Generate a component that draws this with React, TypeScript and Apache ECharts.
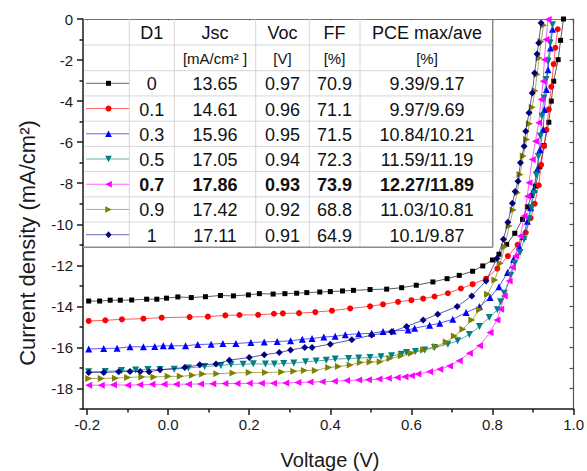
import React, { useEffect, useRef } from "react";
import * as echarts from "echarts";

// ---------- table data ----------
const d1Labels = ["0", "0.1", "0.3", "0.5", "0.7", "0.9", "1"];
const jscVals = ["13.65", "14.61", "15.96", "17.05", "17.86", "17.42", "17.11"];
const vocVals = ["0.97", "0.96", "0.95", "0.94", "0.93", "0.92", "0.91"];
const ffVals = ["70.9", "71.1", "71.5", "72.3", "73.9", "68.8", "64.9"];
const pceVals = ["9.39/9.17", "9.97/9.69", "10.84/10.21", "11.59/11.19", "12.27/11.89", "11.03/10.81", "10.1/9.87"];
const boldRow = 4;

// ---------- axis ticks ----------
const xTicksMajor = [-0.2, 0, 0.2, 0.4, 0.6, 0.8, 1.0];
const xTicksMinor = [-0.1, 0.1, 0.3, 0.5, 0.7, 0.9];
const yTicksMajor = [-18, -16, -14, -12, -10, -8, -6, -4, -2, 0];
const yTicksMinor = [-19, -17, -15, -13, -11, -9, -7, -5, -3, -1];

// ---------- J-V curves ----------
const v_d0 = [-0.196, -0.169, -0.143, -0.118, -0.09, -0.053, -0.028, -0.004, 0.024, 0.057, 0.092, 0.129, 0.161, 0.198, 0.225, 0.259, 0.288, 0.317, 0.342, 0.374, 0.4, 0.43, 0.457, 0.498, 0.539, 0.576, 0.612, 0.653, 0.688, 0.718, 0.751, 0.776, 0.8, 0.816, 0.835, 0.855, 0.874, 0.886, 0.897, 0.906, 0.917, 0.927, 0.939, 0.945, 0.951, 0.962, 0.968, 0.975];
const j_d0 = [-13.74, -13.74, -13.7, -13.7, -13.69, -13.65, -13.65, -13.6, -13.54, -13.57, -13.53, -13.47, -13.49, -13.44, -13.38, -13.4, -13.38, -13.36, -13.33, -13.3, -13.28, -13.25, -13.22, -13.18, -13.16, -13.09, -12.97, -12.81, -12.65, -12.49, -12.29, -12.03, -11.74, -11.46, -10.98, -10.44, -9.76, -9.15, -8.6, -8.14, -7.2, -6.16, -5.03, -4.0, -3.03, -1.98, -1.04, 0];

const v_d1 = [-0.196, -0.155, -0.114, -0.061, -0.016, 0.053, 0.098, 0.141, 0.176, 0.222, 0.261, 0.283, 0.323, 0.363, 0.404, 0.449, 0.498, 0.53, 0.567, 0.6, 0.629, 0.657, 0.69, 0.722, 0.751, 0.784, 0.812, 0.838, 0.862, 0.882, 0.894, 0.904, 0.914, 0.92, 0.927, 0.933, 0.939, 0.945, 0.951, 0.955, 0.961];
const j_d1 = [-14.71, -14.68, -14.63, -14.6, -14.55, -14.52, -14.5, -14.44, -14.42, -14.41, -14.36, -14.34, -14.33, -14.28, -14.21, -14.1, -14.0, -13.9, -13.78, -13.7, -13.62, -13.52, -13.36, -13.13, -12.92, -12.65, -12.16, -11.55, -11.0, -10.4, -9.7, -9.0, -8.1, -7.1, -6.2, -5.4, -4.4, -3.3, -2.2, -1.4, -0.5];

const v_d3 = [-0.196, -0.159, -0.126, -0.094, -0.061, -0.033, -0.012, 0.008, 0.043, 0.073, 0.106, 0.135, 0.167, 0.204, 0.237, 0.269, 0.302, 0.331, 0.355, 0.384, 0.412, 0.437, 0.47, 0.502, 0.53, 0.555, 0.592, 0.608, 0.645, 0.67, 0.702, 0.735, 0.768, 0.794, 0.816, 0.837, 0.852, 0.866, 0.876, 0.886, 0.894, 0.902, 0.91, 0.917, 0.925, 0.928, 0.933, 0.937, 0.943, 0.948];
const j_d3 = [-16.08, -16.05, -16.04, -15.97, -15.97, -15.95, -15.92, -15.92, -15.92, -15.86, -15.84, -15.81, -15.81, -15.76, -15.73, -15.71, -15.68, -15.6, -15.57, -15.49, -15.46, -15.38, -15.34, -15.31, -15.22, -15.2, -15.15, -15.06, -14.92, -14.82, -14.63, -14.3, -14.01, -13.57, -13.04, -12.35, -11.71, -11.1, -10.6, -9.85, -9.19, -8.3, -7.33, -6.36, -5.38, -4.41, -3.44, -2.47, -1.41, -0.5];

const v_d5 = [-0.196, -0.155, -0.115, -0.08, -0.05, -0.02, 0.015, 0.05, 0.09, 0.13, 0.155, 0.185, 0.21, 0.24, 0.262, 0.285, 0.31, 0.339, 0.365, 0.39, 0.412, 0.445, 0.47, 0.498, 0.525, 0.551, 0.575, 0.588, 0.61, 0.633, 0.657, 0.69, 0.714, 0.743, 0.768, 0.792, 0.812, 0.82, 0.829, 0.845, 0.855, 0.868, 0.878, 0.89, 0.896, 0.902, 0.908, 0.913, 0.918, 0.922, 0.927, 0.932, 0.937, 0.942, 0.948];
const j_d5 = [-17.19, -17.17, -17.12, -17.1, -17.08, -17.08, -17.06, -17.0, -16.93, -16.88, -16.83, -16.82, -16.8, -16.81, -16.81, -16.78, -16.76, -16.7, -16.66, -16.62, -16.57, -16.54, -16.52, -16.49, -16.45, -16.41, -16.33, -16.25, -16.2, -16.12, -16.0, -15.84, -15.68, -15.37, -14.98, -14.54, -14.17, -13.78, -13.36, -12.49, -11.9, -11.38, -10.73, -9.76, -9.2, -8.5, -7.6, -6.7, -5.7, -4.74, -3.85, -2.95, -2.06, -1.17, -0.28];

const v_d7 = [-0.196, -0.165, -0.135, -0.1, -0.07, -0.04, -0.01, 0.02, 0.05, 0.08, 0.11, 0.14, 0.17, 0.2, 0.23, 0.26, 0.29, 0.32, 0.35, 0.38, 0.41, 0.44, 0.47, 0.494, 0.52, 0.543, 0.565, 0.584, 0.6, 0.616, 0.645, 0.67, 0.694, 0.718, 0.743, 0.768, 0.794, 0.811, 0.82, 0.829, 0.841, 0.849, 0.857, 0.869, 0.878, 0.886, 0.89, 0.898, 0.906, 0.914, 0.92, 0.925, 0.928, 0.932, 0.937];
const j_d7 = [-17.84, -17.84, -17.82, -17.84, -17.82, -17.8, -17.8, -17.79, -17.79, -17.78, -17.77, -17.76, -17.76, -17.75, -17.74, -17.74, -17.73, -17.71, -17.69, -17.67, -17.65, -17.61, -17.59, -17.58, -17.54, -17.5, -17.47, -17.43, -17.38, -17.3, -17.19, -17.06, -16.9, -16.65, -16.28, -15.92, -15.27, -14.66, -14.14, -13.49, -12.76, -12.11, -11.55, -10.57, -9.6, -8.63, -7.98, -6.84, -5.95, -5.06, -3.92, -3.03, -1.98, -1.0, -0.03];

const v_d9 = [-0.196, -0.165, -0.13, -0.1, -0.065, -0.035, 0.0, 0.03, 0.06, 0.085, 0.12, 0.16, 0.2, 0.24, 0.28, 0.31, 0.336, 0.363, 0.396, 0.42, 0.449, 0.474, 0.498, 0.523, 0.547, 0.575, 0.6, 0.63, 0.661, 0.686, 0.706, 0.727, 0.749, 0.768, 0.788, 0.806, 0.819, 0.83, 0.841, 0.851, 0.861, 0.868, 0.876, 0.884, 0.891, 0.898, 0.905, 0.91, 0.915, 0.92, 0.926];
const j_d9 = [-17.51, -17.51, -17.5, -17.46, -17.44, -17.44, -17.41, -17.41, -17.36, -17.3, -17.28, -17.25, -17.22, -17.22, -17.2, -17.16, -17.12, -17.12, -16.98, -16.93, -16.86, -16.73, -16.71, -16.7, -16.54, -16.41, -16.28, -16.12, -15.95, -15.73, -15.44, -15.11, -14.66, -14.17, -13.41, -12.71, -11.9, -11.1, -10.09, -9.3, -8.47, -7.57, -6.68, -5.87, -5.1, -4.3, -3.5, -2.7, -1.9, -1.1, -0.3];

const v_d10 = [-0.196, -0.159, -0.122, -0.094, -0.069, -0.047, -0.02, 0.041, 0.078, 0.118, 0.151, 0.2, 0.237, 0.274, 0.302, 0.337, 0.355, 0.4, 0.453, 0.502, 0.551, 0.588, 0.629, 0.665, 0.713, 0.749, 0.784, 0.811, 0.827, 0.838, 0.849, 0.856, 0.863, 0.869, 0.878, 0.882, 0.89, 0.898, 0.904, 0.91, 0.914, 0.92];
const j_d10 = [-17.22, -17.22, -17.19, -17.17, -17.17, -17.19, -17.09, -16.98, -16.85, -16.81, -16.62, -16.49, -16.36, -16.25, -16.13, -16.0, -16.0, -15.84, -15.63, -15.4, -15.24, -14.98, -14.67, -14.38, -14.01, -13.49, -12.76, -11.67, -10.73, -9.9, -8.98, -8.4, -7.9, -7.0, -6.2, -5.47, -4.57, -3.6, -2.63, -1.7, -1.17, -0.2];

const curveV = [v_d0, v_d1, v_d3, v_d5, v_d7, v_d9, v_d10];
const curveJ = [j_d0, j_d1, j_d3, j_d5, j_d7, j_d9, j_d10];

// ---------- styles ----------
const colors = ["#000000", "#ff0000", "#0000ff", "#008080", "#ff00ff", "#808000", "#000080"];
const symbols = ["rect", "circle", "triangle", "triangle", "triangle", "triangle", "diamond"];
const rotations = [0, 0, 0, 180, 90, -90, 0];
const sizes = [5, 6, 7, 7, 7, 7, 7];
const FONT = "'Liberation Sans', Arial, Helvetica, sans-serif";

const GL = 83, GT = 19, GR = 577, GB = 409;

function markerGraphic(i: number, cx: number, cy: number): any {
  const c = colors[i];
  const h = 3.3;
  if (i === 0) return { type: "rect", z: 101, shape: { x: cx - 2.5, y: cy - 2.5, width: 5, height: 5 }, style: { fill: c } };
  if (i === 1) return { type: "circle", z: 101, shape: { cx, cy, r: 3 }, style: { fill: c } };
  if (i === 6) return { type: "polygon", z: 101, shape: { points: [[cx, cy - 3.5], [cx + 3, cy], [cx, cy + 3.5], [cx - 3, cy]] }, style: { fill: c } };
  let pts: number[][] = [];
  if (i === 2) pts = [[cx, cy - h], [cx + h, cy + h], [cx - h, cy + h]];
  if (i === 3) pts = [[cx, cy + h], [cx + h, cy - h], [cx - h, cy - h]];
  if (i === 4) pts = [[cx - h, cy], [cx + h, cy - h], [cx + h, cy + h]];
  if (i === 5) pts = [[cx + h, cy], [cx - h, cy - h], [cx - h, cy + h]];
  return { type: "polygon", z: 101, shape: { points: pts }, style: { fill: c } };
}

function txt(text: string, x: number, y: number, size: number, bold = false, extra: any = {}): any {
  return {
    type: "text",
    z: 102,
    x,
    y,
    style: {
      text,
      fill: "#111",
      fontSize: size,
      fontFamily: FONT,
      fontWeight: bold ? "bold" : "normal",
      align: "center",
      verticalAlign: "middle",
      textAlign: "center",
      textVerticalAlign: "middle",
      ...extra,
    },
  };
}

function buildTable(): any[] {
  const colLines = [83, 129.3, 174.3, 255.7, 309.3, 360, 492.7];
  const rowLines = [19.3, 45, 70.7];
  for (let k = 1; k <= 7; k++) rowLines.push(70.7 + k * 25.23);
  const els: any[] = [];
  const x0 = colLines[0], x1 = colLines[colLines.length - 1];
  const y0 = rowLines[0], y1 = rowLines[rowLines.length - 1];
  els.push({ type: "rect", z: 99, shape: { x: x0 + 1, y: y0 + 1, width: x1 - x0 - 1, height: y1 - y0 - 1 }, style: { fill: "#ffffff" } });
  for (let r = 1; r < rowLines.length - 1; r++) {
    els.push({ type: "line", z: 100, shape: { x1: x0 + 1, y1: rowLines[r], x2: x1, y2: rowLines[r] }, style: { stroke: "#d6d6d6", lineWidth: 1 } });
  }
  for (let c = 1; c < colLines.length - 1; c++) {
    els.push({ type: "line", z: 100, shape: { x1: colLines[c], y1: y0, x2: colLines[c], y2: y1 }, style: { stroke: "#d6d6d6", lineWidth: 1 } });
  }
  els.push({ type: "line", z: 100, shape: { x1: x1, y1: y0, x2: x1, y2: y1 }, style: { stroke: "#8c8c8c", lineWidth: 1.5 } });
  els.push({ type: "line", z: 100, shape: { x1: x0, y1: y1, x2: x1, y2: y1 }, style: { stroke: "#8c8c8c", lineWidth: 1.5 } });

  const cx = colLines.slice(0, -1).map((c, i) => (c + colLines[i + 1]) / 2);
  cx[4] = 334.5;
  cx[5] = 427;
  const hy = (rowLines[0] + rowLines[1]) / 2;
  const uy = (rowLines[1] + rowLines[2]) / 2;
  const headers = ["D1", "Jsc", "Voc", "FF", "PCE max/ave"];
  headers.forEach((h, i) => els.push(txt(h, cx[i + 1], hy + 1, 18)));
  const units = ["[mA/cm² ]", "[V]", "[%]", "[%]"];
  units.forEach((u, i) => els.push(txt(u, cx[i + 2], uy + 1, 15)));
  for (let r = 0; r < 7; r++) {
    const y = (rowLines[r + 2] + rowLines[r + 3]) / 2 + 1;
    const b = r === boldRow;
    els.push({ type: "line", z: 100, shape: { x1: 86, y1: y - 1, x2: 129, y2: y - 1 }, style: { stroke: colors[r], lineWidth: 1, opacity: 0.6 } });
    els.push(markerGraphic(r, 108.5, y - 1));
    els.push(txt(d1Labels[r], cx[1], y, 18, b));
    els.push(txt(jscVals[r], cx[2], y, 18, b));
    els.push(txt(vocVals[r], cx[3], y, 18, b));
    els.push(txt(ffVals[r], cx[4], y, 18, b));
    els.push(txt(pceVals[r], cx[5], y, 18, b));
  }
  return els;
}

export default function App() {
  const ref = useRef<HTMLDivElement>(null);
  useEffect(() => {
    if (!ref.current) return;
    const chart = echarts.init(ref.current, null, { renderer: "svg" });
    const axisColor = "#1a1a1a";
    const series = curveV.map((vs, i) => ({
      type: "line",
      name: "D1=" + d1Labels[i],
      xAxisIndex: 0,
      yAxisIndex: 0,
      data: vs.map((v, k) => [v, curveJ[i][k]]),
      symbol: symbols[i],
      symbolSize: sizes[i],
      symbolRotate: rotations[i],
      showSymbol: true,
      clip: true,
      itemStyle: { color: colors[i] },
      lineStyle: { color: colors[i], width: 1, opacity: 0.65 },
      z: 2 + i,
    }));
    chart.setOption({
      animation: false,
      backgroundColor: "#ffffff",
      textStyle: { fontFamily: FONT },
      grid: { left: GL, top: GT, right: 587 - GR, bottom: 471 - GB, containLabel: false },
      xAxis: [
        {
          type: "value", position: "bottom", min: -0.21, max: 1.0,
          axisLine: { show: true, onZero: false, lineStyle: { color: axisColor, width: 1.5 } },
          axisTick: { show: true, customValues: xTicksMajor, length: 6, inside: false, lineStyle: { color: axisColor, width: 1.5 } },
          axisLabel: { show: true, customValues: xTicksMajor, formatter: (v: number) => v.toFixed(1), fontSize: 15, color: "#1a1a1a", margin: 8, fontFamily: FONT },
          splitLine: { show: false },
        },
        {
          type: "value", position: "bottom", min: -0.21, max: 1.0,
          axisLine: { show: false, onZero: false },
          axisTick: { show: true, customValues: xTicksMinor, length: 3.5, inside: false, lineStyle: { color: axisColor, width: 1.5 } },
          axisLabel: { show: false },
          splitLine: { show: false },
        },
        {
          type: "value", position: "top", min: -0.21, max: 1.0,
          axisLine: { show: true, onZero: false, lineStyle: { color: "#777", width: 1.2 } },
          axisTick: { show: true, customValues: xTicksMajor, length: 4, inside: true, lineStyle: { color: "#555", width: 1.2 } },
          axisLabel: { show: false },
          splitLine: { show: false },
        },
      ],
      yAxis: [
        {
          type: "value", position: "left", min: -19, max: 0,
          axisLine: { show: true, onZero: false, lineStyle: { color: axisColor, width: 1.5 } },
          axisTick: { show: true, customValues: yTicksMajor, length: 6, inside: false, lineStyle: { color: axisColor, width: 1.5 } },
          axisLabel: { show: true, customValues: yTicksMajor, formatter: (v: number) => String(v), fontSize: 15, color: "#1a1a1a", margin: 10, fontFamily: FONT },
          splitLine: { show: false },
        },
        {
          type: "value", position: "left", min: -19, max: 0,
          axisLine: { show: false, onZero: false },
          axisTick: { show: true, customValues: yTicksMinor, length: 3.5, inside: false, lineStyle: { color: axisColor, width: 1.5 } },
          axisLabel: { show: false },
          splitLine: { show: false },
        },
        {
          type: "value", position: "right", min: -19, max: 0,
          axisLine: { show: true, onZero: false, lineStyle: { color: "#555", width: 1.2 } },
          axisTick: { show: true, customValues: [...yTicksMajor, ...yTicksMinor], length: 4, inside: true, lineStyle: { color: "#555", width: 1.2 } },
          axisLabel: { show: false },
          splitLine: { show: false },
        },
      ],
      series,
      graphic: [
        ...buildTable(),
        txt("Voltage (V)", (GL + GR) / 2, 460, 20, false, { fill: "#1a1a1a" }),
        {
          type: "text", z: 102, x: 27, y: 243, rotation: Math.PI / 2,
          style: {
            text: "Current density (mA/cm²)", fill: "#1a1a1a", fontSize: 22, fontFamily: FONT,
            align: "center", verticalAlign: "middle", textAlign: "center", textVerticalAlign: "middle",
          },
        },
      ],
    });
    return () => chart.dispose();
  }, []);
  return <div ref={ref} style={{ position: "absolute", left: 0, top: 0, width: 587, height: 471 }} />;
}
